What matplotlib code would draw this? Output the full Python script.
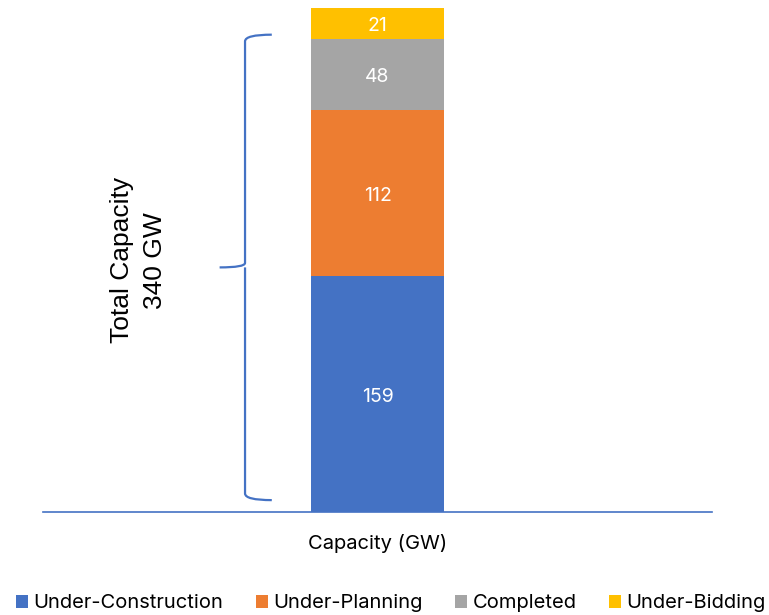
import matplotlib
matplotlib.use("Agg")
import matplotlib.pyplot as plt
from matplotlib.patches import Patch, PathPatch
from matplotlib.path import Path

# capacity by project status (GW)
categories = ["Under-Construction", "Under-Planning", "Completed", "Under-Bidding"]
values = [159, 112, 48, 21]
colors = ["#4472C4", "#ED7D31", "#A5A5A5", "#FFC000"]
total = sum(values)

plt.rcParams["font.family"] = ["Inter", "DejaVu Sans"]

fig = plt.figure(figsize=(7.69, 6.15), dpi=100)
ax = fig.add_axes([0.0559, 0.1675, 0.870, 0.8195])

# stacked single bar
bottom = 0
for cat, val, col in zip(categories, values, colors):
    ax.bar(0, val, width=1.0, bottom=bottom, color=col, label=cat)
    ax.text(0, bottom + val / 2 - 1.8, str(val), ha="center", va="center",
            color="white", fontsize=14)
    bottom += val

ax.set_xlim(-2.5, 2.5)
ax.set_ylim(0, total)
for side in ["top", "right", "left"]:
    ax.spines[side].set_visible(False)
ax.spines["bottom"].set_color("#4472C4")
ax.spines["bottom"].set_linewidth(1.2)
ax.set_xticks([])
ax.set_yticks([])
ax.set_xlabel("Capacity (GW)", fontsize=14.5, labelpad=15.5)

# curly brace spanning the bar
x0, xtip, xend = -0.99, -1.18, -0.79
ytop, ybot = 320.5, 9.5
ymid = (ytop + ybot) / 2
r = 3.0
verts = [
    (xend, ytop + 1.5),
    (x0, ytop + 1.5), (x0, ytop - r),
    (x0, ymid + r),
    (x0, ymid), (xtip, ymid),
    (x0, ymid), (x0, ymid - r),
    (x0, ybot + r),
    (x0, ybot - 1.5), (xend, ybot - 1.5),
]
codes = [Path.MOVETO,
         Path.CURVE3, Path.CURVE3,
         Path.LINETO,
         Path.CURVE3, Path.CURVE3,
         Path.MOVETO, Path.CURVE3,
         Path.LINETO,
         Path.CURVE3, Path.CURVE3]
ax.add_patch(PathPatch(Path(verts, codes), fill=False, edgecolor="#4472C4",
                       linewidth=1.6, clip_on=False))

fig.text(0.180, 0.577, "Total Capacity\n340 GW", rotation=90, ha="center",
         va="center", fontsize=19, family=["Liberation Sans", "DejaVu Sans"],
         linespacing=1.5)

handles = [Patch(facecolor=c, label=l) for l, c in zip(categories, colors)]
fig.legend(handles=handles, loc="lower center", bbox_to_anchor=(0.508, -0.025),
           ncol=4, frameon=False, fontsize=14.5, handlelength=0.62,
           handleheight=0.62, handletextpad=0.25, columnspacing=1.6)

fig.savefig("out.png", dpi=100)
